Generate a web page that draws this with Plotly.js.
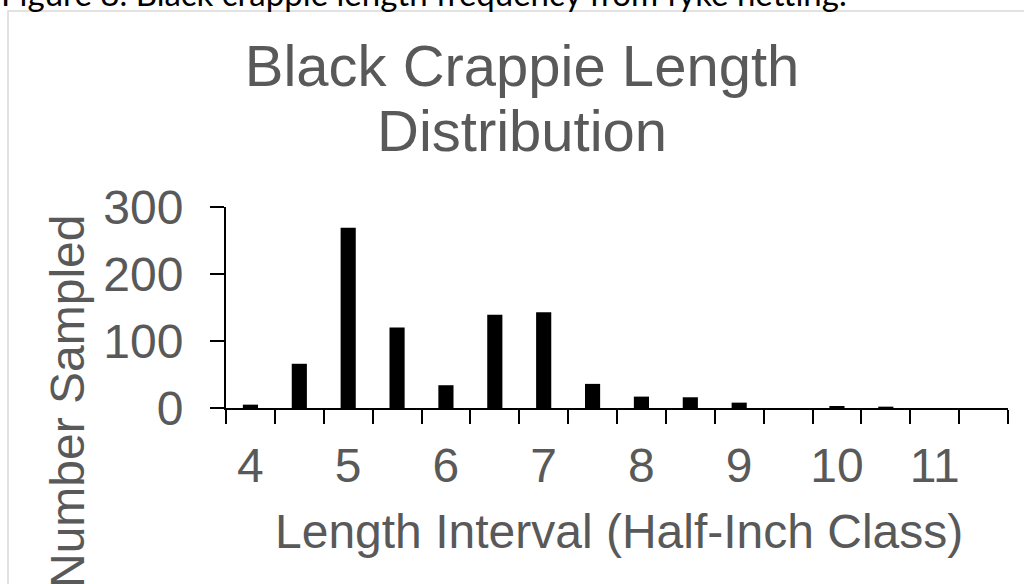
<!DOCTYPE html>
<html>
<head>
<meta charset="utf-8">
<script src="https://cdn.plot.ly/plotly-3.0.1.min.js"></script>
<style>
html,body{margin:0;padding:0;background:#fff;overflow:hidden;}
#chart{width:1024px;height:584px;}
</style>
</head>
<body>
<div id="chart"></div>
<script>
// Half-inch length classes and counts
var lengthClasses = [4, 4.5, 5, 5.5, 6, 6.5, 7, 7.5, 8, 8.5, 9, 9.5, 10, 10.5, 11, 11.5];
var numberSampled = [5, 66, 269, 120, 34, 139, 143, 36, 17, 16, 8, 0, 3, 2, 0, 0];
var xTickValues = [4, 5, 6, 7, 8, 9, 10, 11];
var xTickLabels = ['4', '5', '6', '7', '8', '9', '10', '11'];
var yTickValues = [0, 100, 200, 300];

var W = 1024, H = 584;
var L = 226, R = 16, T = 207, B = 176;
var pw = W - L - R, ph = H - T - B;
function px(p){ return (p - L) / pw; }
function py(p){ return (H - B - p) / ph; }

var gray = '#595959';
var font = 'Liberation Sans, Arial, sans-serif';

var trace = {
  type: 'bar',
  x: lengthClasses,
  y: numberSampled,
  width: 0.155,
  marker: {color: '#000000', line: {width: 0}},
  hoverinfo: 'x+y'
};

var layout = {
  width: W, height: H,
  margin: {l: L, r: R, t: T, b: B, pad: 0},
  paper_bgcolor: '#ffffff',
  plot_bgcolor: '#ffffff',
  showlegend: false,
  font: {family: font, color: gray},
  title: {
    text: 'Black Crappie Length',
    font: {family: font, size: 58, color: gray},
    xref: 'container', x: 522 / W, xanchor: 'center',
    yref: 'container', y: 1 - 66 / H, yanchor: 'middle'
  },
  xaxis: {
    range: [3.75, 11.75],
    tickmode: 'array',
    tickvals: xTickValues,
    ticktext: xTickLabels,
    ticks: 'outside', ticklen: 14, tickwidth: 2, tickcolor: 'rgba(0,0,0,0)',
    tickfont: {family: font, size: 48, color: gray},
    minor: {tickmode: 'linear', tick0: 3.75, dtick: 0.5, ticks: 'outside', ticklen: 14, tickwidth: 2, tickcolor: '#000000', showgrid: false},
    showline: true, linecolor: '#000000', linewidth: 2,
    showgrid: false, zeroline: false, fixedrange: true,
    automargin: false
  },
  yaxis: {
    range: [0, 300],
    tickmode: 'array',
    tickvals: yTickValues,
    ticks: 'outside', ticklen: 14, tickwidth: 2, tickcolor: '#000000',
    ticklabelstandoff: 17,
    tickfont: {family: font, size: 48, color: gray},
    showline: true, linecolor: '#000000', linewidth: 2,
    showgrid: false, zeroline: false, fixedrange: true,
    automargin: false
  },
  annotations: [
    {
      text: 'Distribution', showarrow: false,
      xref: 'paper', yref: 'paper',
      x: px(522), y: py(130), xanchor: 'center', yanchor: 'middle',
      font: {family: font, size: 58, color: gray}
    },
    {
      text: 'Length Interval (Half-Inch Class)', showarrow: false,
      xref: 'paper', yref: 'paper',
      x: px(619), y: py(531), xanchor: 'center', yanchor: 'middle',
      font: {family: font, size: 48, color: gray}
    },
    {
      text: 'Number Sampled', showarrow: false, textangle: -90,
      xref: 'paper', yref: 'paper',
      x: px(67), y: py(401), xanchor: 'center', yanchor: 'middle',
      font: {family: font, size: 48, color: gray}
    },
    {
      text: 'Figure 8. Black crappie length frequency from fyke netting.', showarrow: false,
      xref: 'paper', yref: 'paper',
      x: px(-1), y: py(-7), xanchor: 'left', yanchor: 'middle',
      font: {family: 'Lato, Carlito, Calibri, sans-serif', size: 33, color: '#000000'}
    }
  ],
  shapes: [
    {
      type: 'rect', xref: 'paper', yref: 'paper', layer: 'below',
      x0: px(8), x1: px(1040), y0: py(600), y1: py(11),
      line: {color: '#d9d9d9', width: 1.5}, fillcolor: 'rgba(0,0,0,0)'
    }
  ]
};

Plotly.newPlot('chart', [trace], layout, {staticPlot: true, displayModeBar: false});
</script>
</body>
</html>
